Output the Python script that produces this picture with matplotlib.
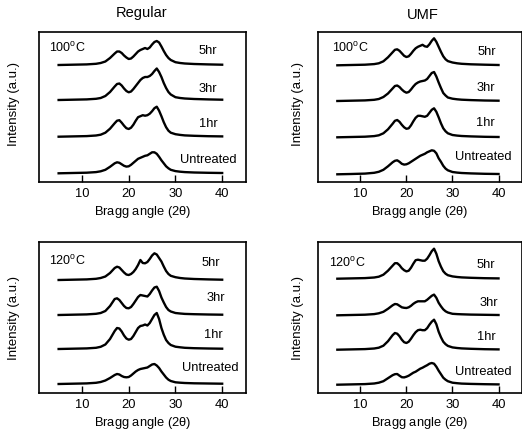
import numpy as np
import matplotlib.pyplot as plt

plt.rcParams['font.family'] = ['Liberation Sans', 'DejaVu Sans']
plt.rcParams['mathtext.default'] = 'regular'

# Bragg angle grid (2 theta, degrees)
two_theta = [5, 8, 11, 13, 14, 15, 16, 17, 17.5, 18, 18.5, 19, 19.5, 20, 20.5, 21, 21.5,
             22, 22.5, 23, 23.5, 24, 24.5, 25, 25.5, 26, 26.5, 27, 27.5, 28, 28.5, 29,
             30, 31, 32, 34, 37, 40]

labels = ['5hr', '3hr', '1hr', 'Untreated']

# intensities (a.u.) above each trace's baseline
reg100_5hr = [0, 0.3, 0.6, 1.2, 2, 3.5, 7, 11.5, 13.5, 13.5, 12, 9.5, 7.5, 6, 6.5, 8.5, 11, 13.5, 15, 16, 17, 16, 17.5, 20.5, 23, 24, 22.5, 18.5, 14, 10, 7, 5, 2.8, 2, 1.5, 1, 0.6, 0.3]
reg100_3hr = [0, 0.3, 0.6, 1.2, 2, 4, 8, 13.5, 16, 16.5, 14.5, 11.5, 9, 7.7, 8.5, 11, 14, 17, 20, 22, 23, 23, 24, 26, 29, 31.5, 28, 23, 17, 12, 8, 5.5, 2.8, 2, 1.5, 1, 0.6, 0.3]
reg100_1hr = [0, 0.3, 0.6, 1.2, 2, 4, 8, 13.5, 16, 16.5, 14, 11, 8.5, 7.7, 9, 12, 16, 19.5, 20.5, 21.5, 21, 21.5, 23, 25.5, 28.5, 30, 26, 20.5, 14.5, 9.5, 6, 4, 2.5, 1.8, 1.3, 0.9, 0.5, 0.3]
reg100_untr = [0, 0.3, 0.6, 1.2, 2, 3.5, 6.5, 10, 11, 10.5, 9, 7.5, 6.7, 7, 8.5, 10.5, 12.5, 14.5, 15.5, 16.5, 17.5, 18, 19.5, 21, 21, 19.5, 16.5, 13, 10, 7, 5, 3.5, 2.2, 1.6, 1.2, 0.8, 0.5, 0.3]

umf100_5hr = [0, 0.3, 0.6, 1.2, 2, 4, 8, 13, 15.5, 16, 14.5, 12, 9.5, 8.3, 9, 11.5, 14.5, 17, 18.5, 19.5, 20.5, 19, 18.5, 21, 24.5, 27, 23.5, 18.5, 13.5, 9, 6, 4.2, 2.8, 2, 1.5, 1, 0.6, 0.3]
umf100_3hr = [0, 0.3, 0.6, 1.2, 2, 4, 7.5, 12.5, 15, 15.5, 14, 11.5, 9.5, 8.3, 9, 11.5, 14.5, 17, 18.5, 19.5, 20, 20.5, 22, 25, 28, 29, 24.5, 18.5, 13, 8, 5.5, 3.5, 2.3, 1.7, 1.3, 0.9, 0.5, 0.3]
umf100_1hr = [0, 0.3, 0.6, 1.2, 2, 4, 8, 13.5, 16.5, 17.3, 15.5, 12.5, 10, 8.5, 9, 12, 16, 19.5, 21.5, 21.5, 21, 20.5, 21.5, 24.5, 27.5, 29, 25.5, 20, 14, 9, 6, 4, 2.3, 1.7, 1.3, 0.9, 0.5, 0.3]
umf100_untr = [0, 0.3, 0.7, 1.5, 2.5, 4.5, 8, 12, 13.5, 14, 12.5, 10.5, 9.7, 10, 11, 12.5, 14, 15.5, 17, 18.5, 19.5, 20.5, 22, 23, 24, 23.5, 21, 16, 12.5, 8.5, 5.7, 4, 2.3, 1.7, 1.3, 0.9, 0.5, 0.3]

reg120_5hr = [0, 0.3, 0.6, 1.2, 2, 3.5, 7, 12, 13.3, 12.5, 10, 7.5, 5.5, 5, 6, 8, 11, 15, 20, 17, 16.7, 18, 21, 24.5, 26.7, 25.5, 22, 18.5, 13.5, 9, 6, 4.2, 2.8, 2, 1.5, 1, 0.6, 0.3]
reg120_3hr = [0, 0.3, 0.6, 1.2, 2, 4, 9, 16, 16.7, 15, 12, 9, 7, 6.7, 8, 11, 14.5, 18, 20, 19.5, 19, 18.5, 21, 24.5, 27.5, 28.3, 24, 17.5, 12.5, 8, 5, 3.5, 2, 1.5, 1.1, 0.8, 0.5, 0.3]
reg120_1hr = [0, 0.3, 0.6, 1.2, 2.2, 4.5, 10, 18, 21, 20.5, 17.5, 13.5, 10.5, 9.3, 10, 13, 17, 21, 23, 23.5, 24.5, 23.5, 26, 30, 34, 36, 30, 21, 14.3, 9, 6, 4, 2.3, 1.7, 1.2, 0.8, 0.5, 0.3]
reg120_untr = [0, 0.3, 0.6, 1.2, 2, 3.5, 6, 9, 10, 9.5, 8, 7, 6.7, 7, 8.5, 10.5, 12.5, 14, 15, 15.5, 16, 16.5, 18, 19.5, 20, 18.5, 16, 12.5, 9.5, 6.5, 4.3, 3, 1.7, 1.3, 1, 0.7, 0.5, 0.3]

umf120_5hr = [0, 0.3, 0.6, 1.2, 2, 4, 8, 13, 15.5, 15.5, 13.5, 10.5, 8.5, 7.3, 8, 11, 15, 18.5, 19, 18.5, 18, 18, 20, 23.5, 27.5, 30, 25, 17.5, 12, 7.5, 5, 3.5, 2.3, 1.7, 1.3, 0.9, 0.5, 0.3]
umf120_3hr = [0, 0.3, 0.6, 1.2, 2, 3.5, 6.5, 10, 11.3, 11, 9.5, 8, 7.5, 7.3, 8, 9.5, 11.5, 13, 14, 14, 14, 14, 15.5, 17.5, 19.5, 20.7, 17.5, 12.5, 9, 6, 4, 2.8, 1.5, 1.2, 1, 0.7, 0.5, 0.3]
umf120_1hr = [0, 0.3, 0.6, 1.2, 2, 4, 8.5, 14.5, 16.7, 16, 13.5, 10, 7.5, 6.7, 8, 11, 14.5, 17.5, 19.5, 20, 19.5, 19.5, 21.5, 25, 28, 30, 25.5, 18, 12.5, 8, 5.5, 3.8, 2.3, 1.7, 1.3, 0.9, 0.5, 0.3]
umf120_untr = [0, 0.3, 0.6, 1.2, 2, 3.5, 6.5, 9.5, 10.5, 10.7, 9, 7.5, 7.3, 8, 9, 10.5, 12, 13, 14.5, 16, 17, 18.3, 19.5, 21, 21.7, 21, 18, 14, 10.5, 7, 5, 3.5, 2, 1.5, 1.1, 0.8, 0.5, 0.3]

W, H = 522, 438
fig = plt.figure(figsize=(W / 100, H / 100), dpi=100)

# (left px, bottom px, width px, height px), temp text, trace offsets, label positions
panels = [
    ((39, 182, 207, 150), '100', [reg100_5hr, reg100_3hr, reg100_1hr, reg100_untr],
     [117, 82, 45.3, 8.7], [(38.9, 131), (38.9, 93), (39.1, 58), (43, 22)], (2.9, 134.5)),
    ((318, 182, 204, 150), '100', [umf100_5hr, umf100_3hr, umf100_1hr, umf100_untr],
     [116.7, 81, 44.7, 7.7], [(39.4, 129.7), (39.2, 93.7), (39.2, 58.7), (42.9, 25)], (3.8, 133.7)),
    ((39, 393, 207, 151), '120', [reg120_5hr, reg120_3hr, reg120_1hr, reg120_untr],
     [113, 78, 44, 9], [(39.6, 129.5), (40.6, 95), (40.1, 58), (43.4, 25)], (2.9, 132)),
    ((318, 393, 204, 151), '120', [umf120_5hr, umf120_3hr, umf120_1hr, umf120_untr],
     [114.3, 77.7, 43.3, 8.3], [(39.3, 128), (40, 90), (39.4, 56), (42.9, 21)], (3.1, 130)),
]

for i, (box, temp, traces, offsets, lab_pos, temp_pos) in enumerate(panels):
    l, b, w, h = box
    ax = fig.add_axes([l / W, (H - b) / H, w / W, h / H])
    for tr, off, lab, (lx, ly) in zip(traces, offsets, labels, lab_pos):
        ax.plot(two_theta, np.array(tr) + off, color='black', lw=1.7)
        ax.text(lx, ly, lab, ha='right', va='center', fontsize=9.3)
    ax.text(temp_pos[0], temp_pos[1], temp + '$^{o}$C', ha='left', va='center', fontsize=9)
    ax.set_xlim(0.8, 45.1)
    ax.set_ylim(0, h)
    ax.set_xticks([10, 20, 30, 40])
    ax.set_yticks([])
    ax.tick_params(axis='x', direction='in', length=5, width=1, labelsize=9.3, pad=4)
    for s in ax.spines.values():
        s.set_linewidth(1.2)
    ax.set_xlabel('Bragg angle (2$\\theta$)', fontsize=9.3, labelpad=3)
    ax.set_ylabel('Intensity (a.u.)', fontsize=9.5)
    ax.yaxis.set_label_coords(-0.09 if i % 2 == 0 else -0.07, 0.52 if i < 2 else 0.5)

fig.text(142 / W, 1 - 13 / H, 'Regular', ha='center', va='center', fontsize=10.5)
fig.text(423 / W, 1 - 15 / H, 'UMF', ha='center', va='center', fontsize=10.5)

fig.savefig('out.png', dpi=100)
